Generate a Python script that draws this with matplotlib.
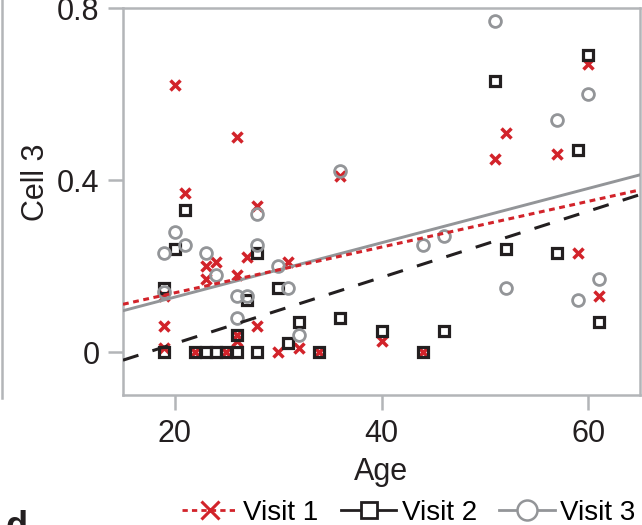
import matplotlib.pyplot as plt
from matplotlib.lines import Line2D

plt.rcParams['font.family'] = ['Liberation Sans', 'DejaVu Sans']

# data
v1_age = [19, 19, 19, 20, 21, 22, 23, 23, 24, 25, 26, 26, 26, 26, 27, 28, 28, 30, 31, 32,
          34, 36, 40, 44, 51, 52, 57, 59, 60, 61]
v1_val = [0.01, 0.06, 0.13, 0.62, 0.37, 0.0, 0.20, 0.17, 0.21, 0.0, 0.50, 0.18, 0.04, 0.025, 0.22, 0.34, 0.06, 0.0, 0.21, 0.01,
          0.0, 0.41, 0.025, 0.0, 0.45, 0.51, 0.46, 0.23, 0.67, 0.13]

v2_age = [19, 19, 20, 21, 22, 23, 24, 25, 26, 26, 27, 28, 28, 30, 31, 32, 34, 36, 40, 44,
          46, 51, 52, 57, 59, 60, 61]
v2_val = [0.0, 0.15, 0.24, 0.33, 0.0, 0.0, 0.0, 0.0, 0.0, 0.04, 0.12, 0.23, 0.0, 0.15, 0.02, 0.07, 0.0, 0.08, 0.05, 0.0,
          0.05, 0.63, 0.24, 0.23, 0.47, 0.69, 0.07]

v3_age = [19, 19, 20, 21, 23, 24, 26, 26, 27, 28, 28, 30, 31, 32, 36, 44, 46, 51, 52, 57,
          59, 60, 61]
v3_val = [0.23, 0.14, 0.28, 0.25, 0.23, 0.18, 0.13, 0.08, 0.13, 0.32, 0.25, 0.20, 0.15, 0.04, 0.42, 0.25, 0.27, 0.77, 0.15, 0.54,
          0.12, 0.60, 0.17]

# fitted lines, end points read at age 15 and 65
fit_age = [15, 65]
v1_fit = [0.111, 0.377]
v2_fit = [-0.019, 0.366]
v3_fit = [0.096, 0.412]

red = '#d2232a'
black = '#231f20'
gray = '#939598'
frame = '#b3b5b8'

fig = plt.figure(figsize=(6.42, 5.25), dpi=100)
ax = fig.add_axes([123/642, 1-395/525, 517/642, 387/525])

ax.plot(v1_age, v1_val, ls='none', marker='x', ms=7.5, mew=2.5, color=red, zorder=2)
ax.plot(v2_age, v2_val, ls='none', marker='s', ms=7, mew=2.3, mfc='none', mec=black, zorder=2)
ax.plot(v3_age, v3_val, ls='none', marker='o', ms=8.5, mew=2, mfc='none', mec=gray, zorder=2)

ax.plot(fit_age, v3_fit, color=gray, lw=2.1, zorder=3)
ax.plot(fit_age, v1_fit, color=red, lw=2.2, dashes=(1.9, 1.5), zorder=3)
ax.plot(fit_age, v2_fit, color=black, lw=2.2, dashes=(5.3, 4.8), zorder=3)

ax.set_xlim(15, 65)
ax.set_ylim(-0.1, 0.8)
ax.set_xticks([20, 40, 60])
ax.set_yticks([0, 0.4, 0.8])
ax.set_yticklabels(['0', '0.4', '0.8'])

for s in ax.spines.values():
    s.set_color(frame)
    s.set_linewidth(1.8)
ax.tick_params(colors=frame, width=1.8, length=11, labelsize=22, labelcolor=black, pad=6)

ax.set_xlabel('Age', fontsize=22, color=black)
ax.set_ylabel('Cell 3', fontsize=22, color=black)
ax.xaxis.set_label_coords(0.5, -0.16)
ax.yaxis.set_label_coords(-0.14, 0.55)

handles = [
    Line2D([], [], color=red, lw=2, dashes=(1.9, 1.5), marker='x', ms=7, mew=2.2),
    Line2D([], [], color=black, lw=2, marker='s', ms=6.5, mew=2, mfc='white', mec=black),
    Line2D([], [], color=gray, lw=2, marker='o', ms=8, mew=1.8, mfc='white', mec=gray),
]
fig.legend(handles, ['Visit 1', 'Visit 2', 'Visit 3'], loc='center', bbox_to_anchor=(0.637, 1-513/525),
           ncol=3, frameon=False, fontsize=20, markerscale=1.8, handlelength=2.0,
           handletextpad=0.2, columnspacing=0.8, borderpad=0)

# neighbouring panel edge and cut-off panel letter
fig.add_artist(Line2D([2/642, 2/642], [1, 1-398/525], color=frame, lw=1.8, transform=fig.transFigure))
fig.text(0.008, 1-510/525, 'd', fontsize=26, fontweight='bold', color=black, va='top')

plt.savefig('out.png', dpi=100)
